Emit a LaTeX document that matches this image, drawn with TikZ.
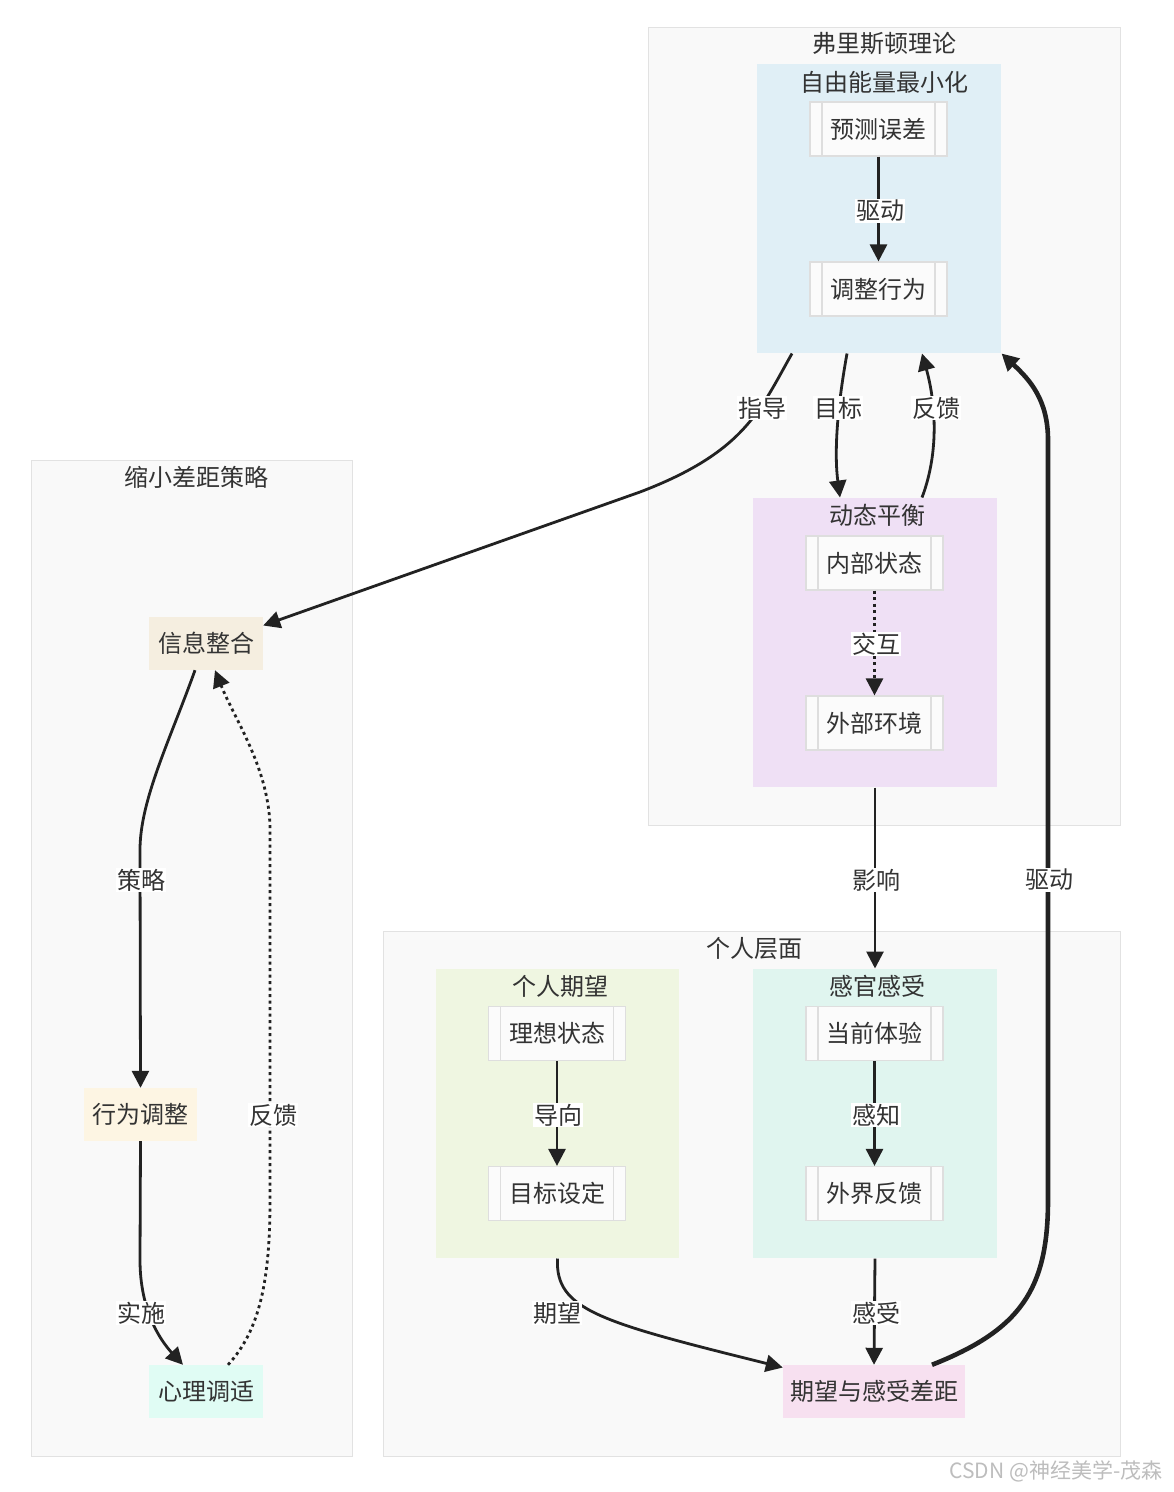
\documentclass[tikz,border=0pt]{standalone}
\usepackage{fontspec}
\setmainfont{Noto Sans CJK SC}
\usetikzlibrary{arrows.meta}

\definecolor{txt}{HTML}{333333}
\definecolor{edgecol}{HTML}{222222}
\definecolor{clborder}{HTML}{E2E2E2}
\definecolor{clfill}{HTML}{F9F9F9}
\definecolor{subborder}{HTML}{DEDEDE}
\definecolor{subfill}{HTML}{FBFBFB}
\definecolor{bluefill}{HTML}{E0EFF6}
\definecolor{lilacfill}{HTML}{EFE0F5}
\definecolor{greenfill}{HTML}{EFF6E1}
\definecolor{tealfill}{HTML}{E0F5EF}
\definecolor{sandfill}{HTML}{F5EEE0}
\definecolor{creamfill}{HTML}{FDF5E3}
\definecolor{mintfill}{HTML}{E0FCF4}
\definecolor{pinkfill}{HTML}{F7E0F0}
\definecolor{wmcol}{HTML}{BDBDBD}

\tikzset{
  cluster/.style={draw=clborder, line width=1pt, fill=#1, inner sep=0pt},
  subr/.style={draw=subborder, line width=1.2pt, fill=subfill, text=txt,
    minimum width=137, minimum height=54, inner sep=0pt,
    path picture={\draw[subborder, line width=1.2pt]
      ([xshift=12pt]path picture bounding box.north west) -- ([xshift=12pt]path picture bounding box.south west)
      ([xshift=-12pt]path picture bounding box.north east) -- ([xshift=-12pt]path picture bounding box.south east);}},
  box/.style={fill=#1, text=txt, minimum height=53, inner sep=0pt},
  elabel/.style={fill=white, text=txt, inner sep=1pt},
  conn/.style={draw=edgecol, line width=2.8pt, -{Triangle[length=17pt,width=17pt]}},
  dotconn/.style={conn, dash pattern=on 3pt off 3.5pt},
}

\begin{document}
\begin{tikzpicture}[x=1pt, y=-1pt, font=\fontsize{24}{28}\selectfont, text=txt]
    \useasboundingbox[fill=white] (0,0) rectangle (1174,1492);

    % Clusters
    \node[cluster=clfill, minimum width=472, minimum height=798] (friston) at (884,426) {};
    \node (t-friston) at (884,44) {弗里斯顿理论};
    \node[cluster=bluefill, draw=none, minimum width=244, minimum height=289] (freeenergy) at (879,208.5) {};
    \node (t-freeenergy) at (884,82) {自由能量最小化};
    \node[cluster=lilacfill, draw=none, minimum width=244, minimum height=289] (balance) at (875,642.5) {};
    \node (t-balance) at (877,515) {动态平衡};

    \node[cluster=clfill, minimum width=321, minimum height=996] (strategy) at (191.5,958) {};
    \node (t-strategy) at (196,477) {缩小差距策略};

    \node[cluster=clfill, minimum width=737, minimum height=525] (personal) at (751.5,1193.5) {};
    \node (t-personal) at (754,948) {个人层面};
    \node[cluster=greenfill, draw=none, minimum width=243, minimum height=289] (expect) at (557.5,1113.5) {};
    \node (t-expect) at (560,986) {个人期望};
    \node[cluster=tealfill, draw=none, minimum width=244, minimum height=289] (sense) at (875,1113.5) {};
    \node (t-sense) at (877,986) {感官感受};

    % Nodes
    \node[subr] (prederr) at (878.5,129) {预测误差};
    \node[subr] (adjust) at (878.5,289) {调整行为};
    \node[subr] (inner) at (874.5,563) {内部状态};
    \node[subr] (outer) at (874.5,723) {外部环境};
    \node[subr] (ideal) at (557,1033.5) {理想状态};
    \node[subr] (goal) at (557,1193.5) {目标设定};
    \node[subr] (current) at (874.5,1033.5) {当前体验};
    \node[subr] (extfb) at (874.5,1193.5) {外界反馈};
    \node[box=sandfill, minimum width=114] (integrate) at (206,643.5) {信息整合};
    \node[box=creamfill, minimum width=113] (behave) at (140.5,1114.5) {行为调整};
    \node[box=mintfill, minimum width=114] (mental) at (206,1391.5) {心理调适};
    \node[box=pinkfill, minimum width=182] (gap) at (874,1391.5) {期望与感受差距};

    % Edges inside clusters
    \draw[conn] (prederr.south) -- (adjust.north);
    \draw[dotconn] (inner.south) -- (outer.north);
    \draw[conn] (ideal.south) -- (goal.north);
    \draw[conn] (current.south) -- (extfb.north);

    % Edges between clusters
    \draw[conn] ([xshift=-87pt]freeenergy.south) .. controls (760,410) and (745,452) .. (640,492) -- ([yshift=18pt]integrate.east);
    \draw[conn] ([xshift=-32pt]freeenergy.south) .. controls (835,420) and (835,460) .. ([xshift=-35pt]balance.north);
    \draw[conn] ([xshift=47pt]balance.north) .. controls (940,450) and (935,400) .. ([xshift=43pt]freeenergy.south);
    \draw[conn] (balance.south) -- (sense.north);
    \draw[conn, line width=4.6pt] ([xshift=58pt]gap.north) .. controls (1020,1330) and (1048,1290) .. (1048,1200)
        -- (1048,440) .. controls (1048,400) and (1030,380) .. (freeenergy.south east);
    \draw[conn] (expect.south) .. controls (555,1310) and (600,1322) .. ([yshift=24pt]gap.west);
    \draw[conn] (sense.south) -- (gap.north);

    % Strategy loop
    \draw[conn] ([xshift=-11pt]integrate.south) .. controls (170,740) and (140,800) .. (140,850) -- (behave.north);
    \draw[conn] (behave.south) -- (140,1260) .. controls (140,1310) and (160,1340) .. ([xshift=-23pt]mental.north);
    \draw[dotconn] ([xshift=22pt]mental.north) .. controls (260,1330) and (270,1280) .. (270,1200)
        -- (270,830) .. controls (270,770) and (235,720) .. ([xshift=9pt]integrate.south);

    % Edge labels
    \node[elabel] (l-drive1) at (880,211) {驱动};
    \node[elabel] (l-interact) at (876,644) {交互};
    \node[elabel] (l-guide) at (762,408) {指导};
    \node[elabel] (l-target) at (838,408) {目标};
    \node[elabel] (l-feedback1) at (936,408) {反馈};
    \node[elabel] (l-drive2) at (1049,880) {驱动};
    \node[elabel] (l-influence) at (876,880) {影响};
    \node[elabel] (l-strategy) at (141,880) {策略};
    \node[elabel] (l-feedback2) at (273,1115) {反馈};
    \node[elabel] (l-apply) at (141,1313) {实施};
    \node[elabel] (l-orient) at (558,1115) {导向};
    \node[elabel] (l-perceive) at (876,1115) {感知};
    \node[elabel] (l-expect) at (557,1313) {期望};
    \node[elabel] (l-feel) at (876,1313) {感受};

    % Watermark
    \node[text=wmcol, font=\fontsize{21}{24}\selectfont] (wm) at (1056,1471) {CSDN @神经美学-茂森};

\end{tikzpicture}
\end{document}
